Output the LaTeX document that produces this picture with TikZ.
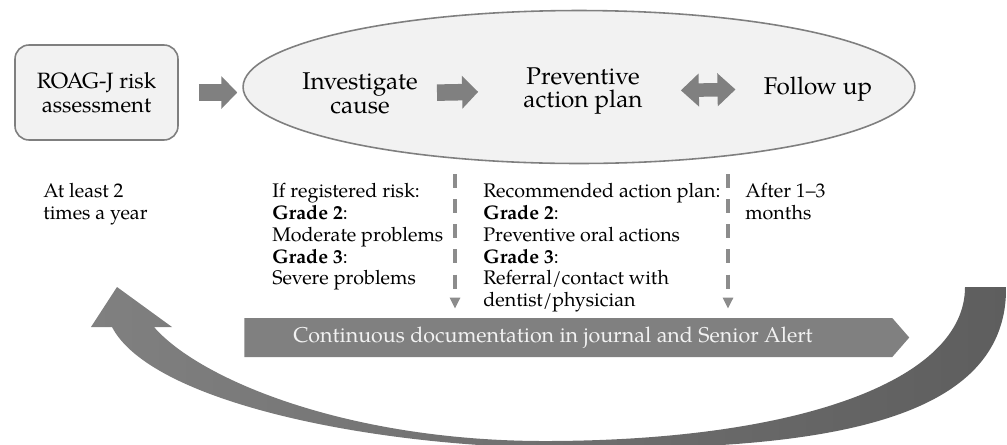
\documentclass[tikz,border=0pt]{standalone}
\usepackage{fontspec}
\setmainfont{texgyrepagella}[Extension=.otf, UprightFont=*-regular, BoldFont=*-bold, ItalicFont=*-italic, BoldItalicFont=*-bolditalic]
\usetikzlibrary{arrows.meta, shapes.geometric, shapes.symbols}
\definecolor{boxfill}{HTML}{F2F2F2}
\definecolor{boxline}{HTML}{7F7F7F}
\definecolor{arrowgray}{HTML}{808080}
\definecolor{dashgray}{HTML}{8C8C8C}
\definecolor{darkarc}{HTML}{5E5E5E}
\begin{document}
\begin{tikzpicture}[x=0.02cm, y=-0.02cm,
  stagebox/.style={rectangle, draw=boxline, fill=boxfill, line width=0.9pt, rounded corners=0.28cm, minimum width=3.26cm, minimum height=1.9cm, align=center, font=\fontsize{12.6}{13.6}\selectfont},
  oval/.style={ellipse, draw=boxline, fill=boxfill, line width=0.9pt, minimum width=13.44cm, minimum height=3.06cm, inner sep=0pt},
  bigtext/.style={align=center, inner sep=0pt, font=\fontsize{13.8}{13.6}\selectfont},
  note/.style={align=left, anchor=north west, inner sep=0pt, font=\fontsize{11.2}{12.4}\selectfont},
  blockarrow/.style={draw=arrowgray, line width=0.33cm, -{Triangle[length=0.32cm, width=0.64cm]}},
  twinarrow/.style={draw=arrowgray, line width=0.27cm, {Triangle[length=0.36cm, width=0.64cm]}-{Triangle[length=0.36cm, width=0.64cm]}},
  dasharrow/.style={draw=dashgray, line width=2.1pt, dash pattern=on 8pt off 6.3pt, -{Triangle[length=6.3pt, width=5.7pt]}, shorten >=0.18cm},
  docbar/.style={signal, signal to=east, signal pointer angle=98, fill=arrowgray, minimum width=13.3cm, minimum height=0.78cm, inner sep=0pt},
  doctext/.style={text=boxfill, inner sep=0pt, font=\fontsize{12.2}{14}\selectfont}
]
  \useasboundingbox (0,0) rectangle (1007,444);

  % Big return arrow (bottom)
  \begin{scope}
    \clip (0,0) rectangle (1007,444);
    \shade[left color=arrowgray, middle color=arrowgray!80!darkarc, right color=darkarc]
      (112,327) .. controls (150,400) and (360,445) .. (550,448)
                .. controls (800,452) and (1008,430) .. (1006,287)
      -- (965,287) .. controls (965,380) and (800,440) .. (550,441)
                .. controls (350,442) and (200,380) .. (154,327)
      -- (172,327) -- (117,287) -- (91,327) -- cycle;
  \end{scope}

  % Top row
  \node[stagebox] (risk) at (96.5,92.5) {ROAG-J risk\\assessment};
  \node[oval] (oval) at (579,87) {};
  \node[bigtext] (invest) at (360,93) {Investigate\\cause};
  \node[bigtext] (prevent) at (583,91) {Preventive\\action plan};
  \node[bigtext] (follow) at (818,89) {Follow up};

  % Block arrows between stages
  \draw[blockarrow, shorten <=0.4cm, shorten >=0.1cm] (risk.east) -- (risk.east -| oval.west);
  \draw[blockarrow, shorten <=0.38cm, shorten >=0.9cm] (invest.east) -- (prevent.west);
  \draw[twinarrow, shorten <=0.76cm, shorten >=0.56cm] (prevent.east) -- (follow.west);

  % Notes under the stages
  \node[note] (freq) at (43,183) {At least 2\\times a year};
  \node[note] (grades) at (272,183) {If registered risk:\\\textbf{Grade 2}:\\Moderate problems\\\textbf{Grade 3}:\\Severe problems};
  \node[note] (plan) at (483,183) {Recommended action plan:\\\textbf{Grade 2}:\\Preventive oral actions\\\textbf{Grade 3}:\\Referral/contact with\\dentist/physician};
  \node[note] (after) at (745,183) {After 1--3\\months};

  % Documentation banner
  \node[docbar, anchor=west] (docbar) at (244,337.5) {};
  \node[doctext] (doclabel) at (553,338) {Continuous documentation in journal and Senior Alert};

  % Dashed arrows down to the banner
  \coordinate (drop1) at (455,174);
  \coordinate (drop2) at (728,174);
  \draw[dasharrow] (drop1) -- (drop1 |- docbar.north);
  \draw[dasharrow] (drop2) -- (drop2 |- docbar.north);
\end{tikzpicture}
\end{document}
